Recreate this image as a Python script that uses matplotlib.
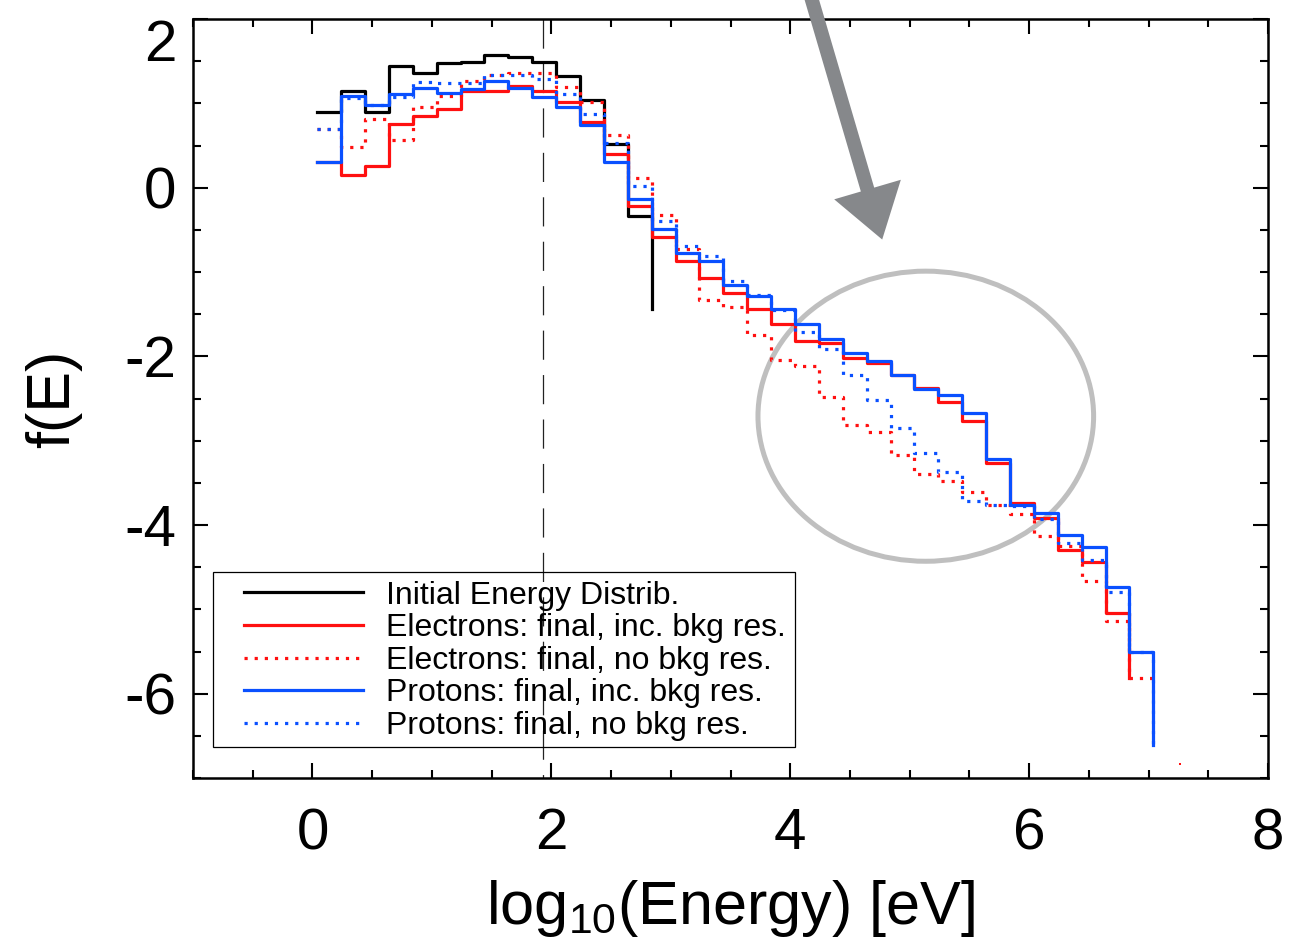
import numpy as np
import matplotlib
matplotlib.use('Agg')
import matplotlib.pyplot as plt
from matplotlib.patches import Ellipse, Rectangle
from matplotlib.ticker import MultipleLocator, FixedLocator

plt.rcParams['font.family'] = ['Liberation Sans', 'DejaVu Sans']
plt.rcParams['axes.unicode_minus'] = False
plt.rcParams['mathtext.fontset'] = 'custom'
plt.rcParams['mathtext.rm'] = 'Liberation Sans'
plt.rcParams['mathtext.it'] = 'Liberation Sans:italic'
plt.rcParams['lines.scale_dashes'] = False

# ---------------- data ----------------
# bin edges in log10(Energy [eV])
edges = [0.04, 0.24, 0.44, 0.64, 0.84, 1.04, 1.24, 1.44, 1.64, 1.84,
         2.04, 2.24, 2.44, 2.64, 2.84, 3.04, 3.24, 3.44, 3.64, 3.84,
         4.04, 4.24, 4.44, 4.64, 4.84, 5.04, 5.24, 5.44, 5.64, 5.84,
         6.04, 6.24, 6.44, 6.64, 6.84, 7.04]

initial = [0.90, 1.15, 0.90, 1.44, 1.36, 1.48, 1.49, 1.57, 1.55, 1.49,
           1.32, 1.04, 0.52, -0.34]
initial_end = -1.44

elec_bkg = [0.30, 0.15, 0.26, 0.76, 0.85, 0.93, 1.15, 1.15, 1.21, 1.15,
            1.01, 0.78, 0.40, -0.22, -0.58, -0.87, -1.07, -1.25, -1.44, -1.62,
            -1.82, -1.84, -2.02, -2.08, -2.22, -2.38, -2.54, -2.77, -3.26, -3.74,
            -3.92, -4.30, -4.44, -5.04]
elec_bkg_end = -5.82

elec_nobkg = [0.70, 0.48, 0.82, 0.57, 0.96, 1.09, 1.27, 1.34, 1.36, 1.36,
              1.19, 1.01, 0.63, 0.11, -0.33, -0.73, -1.33, -1.41, -1.75, -2.04,
              -2.12, -2.48, -2.82, -2.90, -3.17, -3.39, -3.48, -3.61, -3.76, -3.87,
              -4.13, -4.25, -4.66, -5.14, -5.82]
elec_nobkg_end = -5.82

prot_bkg = [0.30, 1.09, 0.98, 1.11, 1.18, 1.12, 1.17, 1.26, 1.18, 1.07,
            0.96, 0.74, 0.31, -0.13, -0.49, -0.77, -0.87, -1.15, -1.29, -1.44,
            -1.62, -1.80, -1.96, -2.06, -2.22, -2.39, -2.46, -2.67, -3.22, -3.76,
            -3.86, -4.12, -4.26, -4.73, -5.51]
prot_bkg_end = -6.61

prot_nobkg = [0.70, 1.06, 0.98, 1.08, 1.25, 1.24, 1.24, 1.34, 1.34, 1.29,
              1.11, 0.87, 0.53, 0.02, -0.39, -0.69, -0.81, -1.11, -1.27, -1.45,
              -1.71, -1.91, -2.22, -2.52, -2.85, -3.15, -3.37, -3.72, -3.76, -3.78,
              -3.93, -4.21, -4.41, -4.79, -5.51]
prot_nobkg_end = -6.61

stray_x = [7.26]
stray_y = [-6.83]

cutoff_energy = 1.93

labels = ["Initial Energy Distrib.",
          "Electrons: final, inc. bkg res.",
          "Electrons: final, no bkg res.",
          "Protons: final, inc. bkg res.",
          "Protons: final, no bkg res."]

xticks = [0, 2, 4, 6, 8]
yticks = [-6, -4, -2, 0, 2]

# annotation geometry (data coords)
circ_center = (5.135, -2.71)
circ_w, circ_h = 2.81, 3.44
arrow_start = (4.17, 2.28)
arrow_tip = (4.77, -0.615)

RED = '#ff1010'
BLUE = '#0a50ff'

# ---------------- plot ----------------
fig = plt.figure(figsize=(13.07, 9.42), dpi=100)
ax = fig.add_axes([193/1307, 1-778/942, 1075/1307, 759/942])

def stepxy(vals, end):
    x = edges[:len(vals) + 1]
    y = list(vals) + [end]
    return x, y

lw = 2.3
dot = (0, (2.3, 5.0))

ax.add_patch(Ellipse(circ_center, circ_w, circ_h, fill=False,
                     edgecolor='#bfbfbf', lw=3.6, zorder=1.5))

ax.plot([cutoff_energy, cutoff_energy], [2, -7], color='#222222', lw=0.9,
        dashes=(21, 11), dash_capstyle='butt', zorder=1.6)

h = []
x, y = stepxy(initial, initial_end)
h += ax.step(x, y, where='post', color='black', lw=lw, label=labels[0], zorder=3)
x, y = stepxy(elec_bkg, elec_bkg_end)
h += ax.step(x, y, where='post', color=RED, lw=lw, label=labels[1], zorder=3.2)
x, y = stepxy(elec_nobkg, elec_nobkg_end)
h += ax.step(x, y, where='post', color=RED, lw=lw, ls=dot, label=labels[2], zorder=3.1)
x, y = stepxy(prot_bkg, prot_bkg_end)
h += ax.step(x, y, where='post', color=BLUE, lw=lw, label=labels[3], zorder=3.4)
x, y = stepxy(prot_nobkg, prot_nobkg_end)
h += ax.step(x, y, where='post', color=BLUE, lw=lw, ls=dot, label=labels[4], zorder=3.3)
ax.plot(stray_x, stray_y, 's', color=RED, ms=1.5, mew=0)

ax.annotate('', xy=arrow_tip, xytext=arrow_start, xycoords='data',
            arrowprops=dict(arrowstyle='simple,head_length=0.75,head_width=1.0,tail_width=0.2',
                            mutation_scale=50, color='#86888b', shrinkA=0, shrinkB=0,
                            lw=0),
            annotation_clip=False, zorder=5)

ax.set_xlim(-1, 8)
ax.set_ylim(-7, 2)
ax.xaxis.set_major_locator(FixedLocator(xticks))
ax.yaxis.set_major_locator(FixedLocator(yticks))
ax.set_xticklabels([str(t) for t in xticks])
ax.set_yticklabels([str(t) for t in yticks])
ax.xaxis.set_minor_locator(MultipleLocator(0.5))
ax.yaxis.set_minor_locator(MultipleLocator(0.5))
ax.tick_params(which='both', direction='in', top=True, right=True, width=1.5)
ax.tick_params(which='major', length=11)
ax.tick_params(which='minor', length=5.5)
ax.tick_params(axis='x', which='major', labelsize=42, pad=21)
ax.tick_params(axis='y', which='major', labelsize=42, pad=12)
for s in ax.spines.values():
    s.set_linewidth(1.8)

ax.yaxis.get_major_ticks()[-1].label1.set_va('top')

ax.set_xlabel(r'$\mathregular{log_{10}}$(Energy) [eV]', fontsize=44)
ax.xaxis.set_label_coords(0.5, -0.132)
ax.set_ylabel('f(E)', fontsize=44)
ax.yaxis.set_label_coords(-0.103, 0.5)

leg = ax.legend(handles=h, loc='upper left', frameon=False, fontsize=23,
                bbox_to_anchor=(234/1307, 1-571/942), bbox_transform=fig.transFigure,
                borderaxespad=0, borderpad=0.3, handlelength=3.75, handletextpad=0.7,
                labelspacing=0.08)
fig.add_artist(Rectangle((213/1307, 1-747/942), 582/1307, 175/942,
                         transform=fig.transFigure, fill=False, lw=0.9, ec='black'))

fig.savefig('out.png', dpi=100)
